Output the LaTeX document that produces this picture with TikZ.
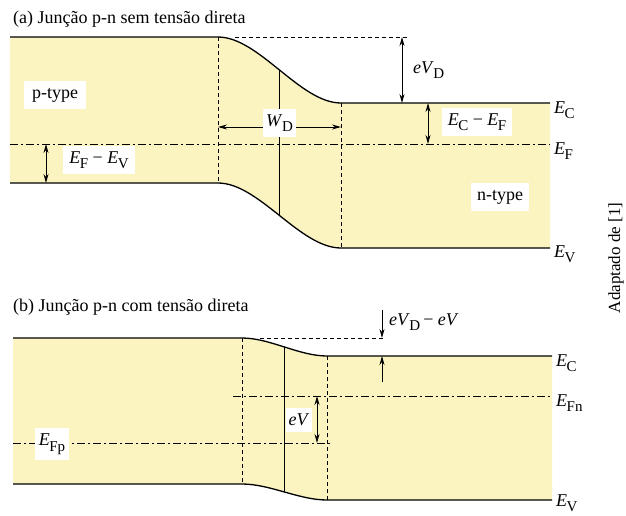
\documentclass[tikz,border=0pt]{standalone}
\usepackage{fontspec}
\setmainfont{Liberation Serif}
\usetikzlibrary{arrows.meta,positioning}
\definecolor{bandfill}{HTML}{FBF4C0}
\newcommand{\lsub}[1]{\kern-0.5pt\raisebox{-5.5pt}{\fontsize{15}{15}\selectfont #1}}

\begin{document}
\begin{tikzpicture}[x=1pt,y=-1pt,
  font=\fontsize{18}{21}\selectfont,
  bandline/.style={line width=1.3pt},
  gapline/.style={line width=0.7pt,dash pattern=on 4pt off 3pt},
  fermiline/.style={line width=0.8pt,dash pattern=on 8pt off 3pt on 2pt off 3pt},
  splitline/.style={line width=0.9pt},
  dimarrow/.style={{Stealth[length=9pt,width=5pt]}-{Stealth[length=9pt,width=5pt]},line width=0.9pt},
  onearrow/.style={-{Stealth[length=9pt,width=5pt]},line width=0.9pt},
  whitetag/.style={fill=white,inner xsep=6pt,inner ysep=5pt},
  sidelabel/.style={inner sep=1pt}
]
\useasboundingbox (0,0) rectangle (626,515);

% (a) no bias
\node[anchor=base west,inner sep=0pt] (titleA) at (13,23) {(a) Junção p-n sem tensão direta};
\coordinate (ecA0) at (10,37);  \coordinate (ecA1) at (218,37);
\coordinate (ecA2) at (341,103); \coordinate (ecA3) at (550,103);
\coordinate (evA0) at (10,183); \coordinate (evA1) at (218,183);
\coordinate (evA2) at (341,248); \coordinate (evA3) at (550,248);
\fill[bandfill] (ecA0) -- (ecA1) .. controls (259,37) and (300,103) .. (ecA2) -- (ecA3)
  -- (evA3) -- (evA2) .. controls (300,248) and (259,183) .. (evA1) -- (evA0) -- cycle;
\draw[bandline] (ecA0) -- (ecA1) .. controls (259,37) and (300,103) .. (ecA2) -- (ecA3);
\draw[bandline] (evA0) -- (evA1) .. controls (259,183) and (300,248) .. (evA2) -- (evA3);
\coordinate (efA0) at (10,144); \coordinate (efA1) at (550,144);
\draw[fermiline] (efA0) -- (efA1);
\draw[gapline] (ecA1) -- (evA1);
\draw[gapline] (ecA2) -- (evA2);
\draw[splitline] (279.5,70) -- (279.5,216);
\draw[gapline] (235,37) -- (407,37);
\draw[dimarrow] (402,37) -- (402,103);
\node[sidelabel,anchor=west] (vdA) at (412,70) {\textit{eV}\lsub{D}};
\draw[dimarrow] (428,103) -- (428,144);
\node[whitetag] (ecefA) at (477,122) {\textit{E}\lsub{C} − \textit{E}\lsub{F}};
\draw[dimarrow] (218,127) -- (341,127);
\node[whitetag,inner xsep=3pt] (wdA) at (279.5,123) {\textit{W}\lsub{D}};
\node[whitetag,inner xsep=8pt,inner ysep=7pt] (pside) at (55,95) {p-type};
\draw[dimarrow] (46,144) -- (46,183);
\node[whitetag] (efevA) at (99,160) {\textit{E}\lsub{F} − \textit{E}\lsub{V}};
\node[whitetag,inner xsep=6pt,inner ysep=7pt] (nside) at (500,197) {n-type};
\node[sidelabel,right=3pt of ecA3,yshift=-7pt] {\textit{E}\lsub{C}};
\node[sidelabel,right=3pt of efA1,yshift=-7pt] {\textit{E}\lsub{F}};
\node[sidelabel,right=3pt of evA3,yshift=-6pt] {\textit{E}\lsub{V}};

% (b) forward bias
\node[anchor=base west,inner sep=0pt] (titleB) at (13,311) {(b) Junção p-n com tensão direta};
\coordinate (ecB0) at (13,338);  \coordinate (ecB1) at (242,338);
\coordinate (ecB2) at (327,356); \coordinate (ecB3) at (552,356);
\coordinate (evB0) at (13,484); \coordinate (evB1) at (242,484);
\coordinate (evB2) at (327,500); \coordinate (evB3) at (552,500);
\fill[bandfill] (ecB0) -- (ecB1) .. controls (270,338) and (299,356) .. (ecB2) -- (ecB3)
  -- (evB3) -- (evB2) .. controls (299,500) and (270,484) .. (evB1) -- (evB0) -- cycle;
\draw[bandline] (ecB0) -- (ecB1) .. controls (270,338) and (299,356) .. (ecB2) -- (ecB3);
\draw[bandline] (evB0) -- (evB1) .. controls (270,484) and (299,500) .. (evB2) -- (evB3);
\draw[gapline] (ecB1) -- (evB1);
\draw[gapline] (ecB2) -- (evB2);
\draw[splitline] (284.5,347) -- (284.5,492);
\coordinate (fnB0) at (233,396); \coordinate (fnB1) at (552,396);
\coordinate (fpB0) at (13,443);  \coordinate (fpB1) at (330,443);
\draw[fermiline] (fnB0) -- (fnB1);
\draw[fermiline] (fpB0) -- (fpB1);
\draw[gapline] (260,338) -- (385,338);
\draw[onearrow] (382,310) -- (382,338);
\draw[onearrow] (382,382) -- (382,356);
\node[sidelabel,anchor=west] (vdB) at (388,322) {\textit{eV}\lsub{D}\,− \textit{eV}};
\draw[dimarrow] (317,396) -- (317,443);
\node[whitetag,inner xsep=3pt,inner ysep=6pt] (evB) at (299,420) {\textit{eV}};
\node[whitetag,inner xsep=4pt,inner ysep=6pt] (fpB) at (52,444) {\textit{E}\lsub{Fp}};
\node[sidelabel,right=3pt of ecB3,yshift=-7pt] {\textit{E}\lsub{C}};
\node[sidelabel,right=3pt of fnB1,yshift=-7pt] {\textit{E}\lsub{Fn}};
\node[sidelabel,right=3pt of evB3,yshift=-3pt] {\textit{E}\lsub{V}};

\node[rotate=90,font=\fontsize{17}{20}\selectfont] (source) at (616,258) {Adaptado de [1]};
\end{tikzpicture}
\end{document}
